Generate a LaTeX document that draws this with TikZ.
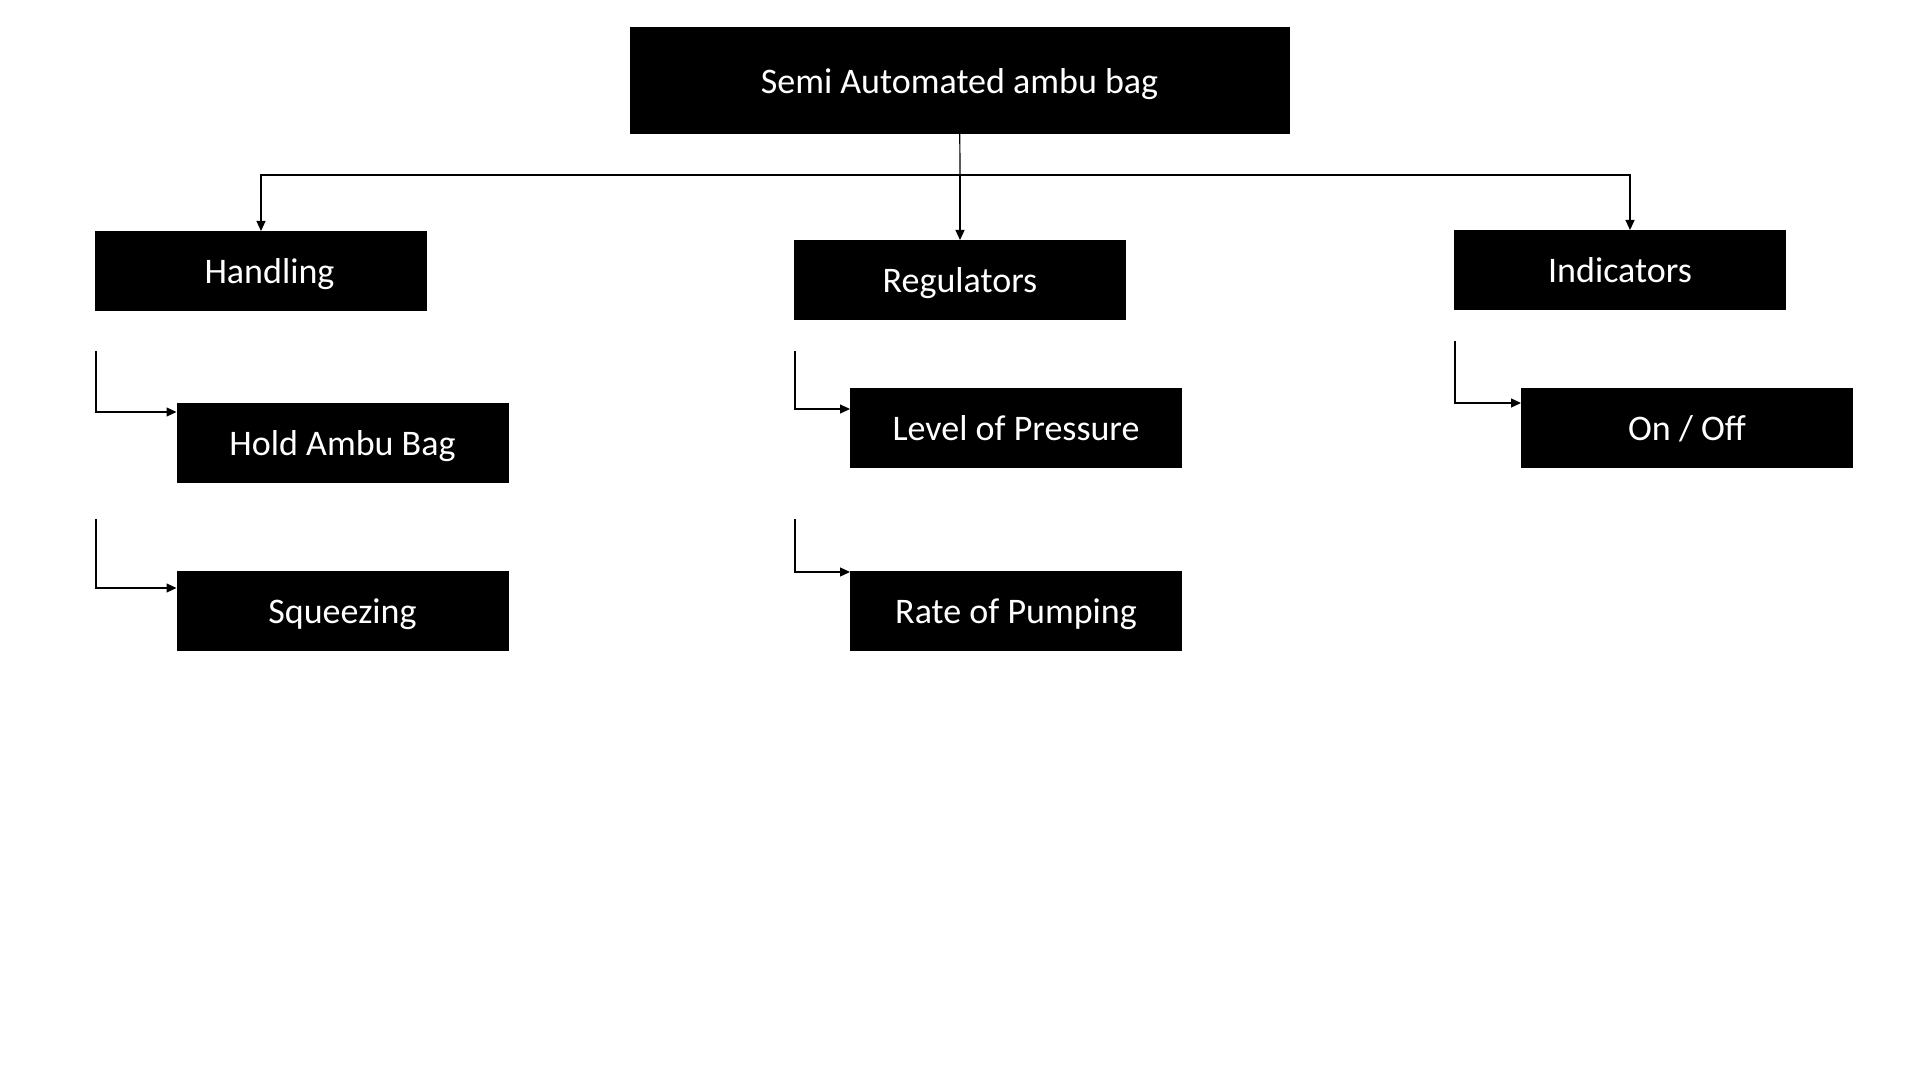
\documentclass[tikz,border=0pt]{standalone}
\usepackage{fontspec}
\setmainfont{Carlito}
\usetikzlibrary{arrows.meta,calc,positioning}
\newdimen\hdim
\newdimen\wdim
\hdim=40pt
\wdim=166pt
\tikzstyle{element}=[
  fill=black,
  text=white,
  font={\fontsize{18}{22}\selectfont},
  inner sep=0pt,
  minimum height=\hdim,
  minimum width=\wdim,
  outer sep=0pt,
  rectangle,
  text centered,
  text height=12.6pt,
  text depth=0pt,
]
\tikzstyle{root}=[
  element,
  minimum height=53.5pt,
  minimum width=330pt,
]
\tikzstyle{arrow}=[
  color=black,
  draw=black,
  line width=0.6pt,
]
\tikzset{
  x=0.5pt,
  y=-0.5pt,
  >={Triangle[length=5pt,width=4.5pt]},
}
\begin{document}
\begin{tikzpicture}
      \useasboundingbox (0,0) rectangle (1920,1080);
      \node (ambubag) [root] at (959.5,80.5) {Semi Automated ambu bag};
      \coordinate (J) at (960,175);
      %%
      \node (handling) [element] at (261,271) {\hspace*{8.5pt}Handling};
      \node (regulators) [element] at (960,280) {Regulators};
      \node (indicators) [element] at (1620,270) {Indicators};
      %%
      \node (holdbag) [element] at (342.5,442.5) {Hold Ambu Bag};
      \node (squeezing) [element] at (342.5,611) {Squeezing};
      \node (pressure) [element] at (1016,428) {Level of Pressure};
      \node (pumping) [element] at (1016,611) {Rate of Pumping};
      \node (onoff) [element] at (1687,427.5) {On / Off};
      %%
      \coordinate (A) at (96,351);
      \coordinate (B) at (96,519);
      \coordinate (C) at (795,351);
      \coordinate (D) at (795,519);
      \coordinate (E) at (1455,341);
      %%
      \draw [arrow] (ambubag) -- (J);
      \draw [->, arrow] (J) -| (handling.north);
      \draw [->, arrow] (J) -- (regulators.north);
      \draw [->, arrow] (J) -| ([xshift=5pt]indicators.north);
      \draw [->, arrow] (A) |- ([yshift=15.25pt]holdbag.west);
      \draw [->, arrow] (B) |- ([yshift=11.5pt]squeezing.west);
      \draw [->, arrow] (C) |- ([yshift=9.5pt]pressure.west);
      \draw [->, arrow] (D) |- ([yshift=19.5pt]pumping.west);
      \draw [->, arrow] (E) |- ([yshift=12.25pt]onoff.west);
    \end{tikzpicture}
\end{document}
